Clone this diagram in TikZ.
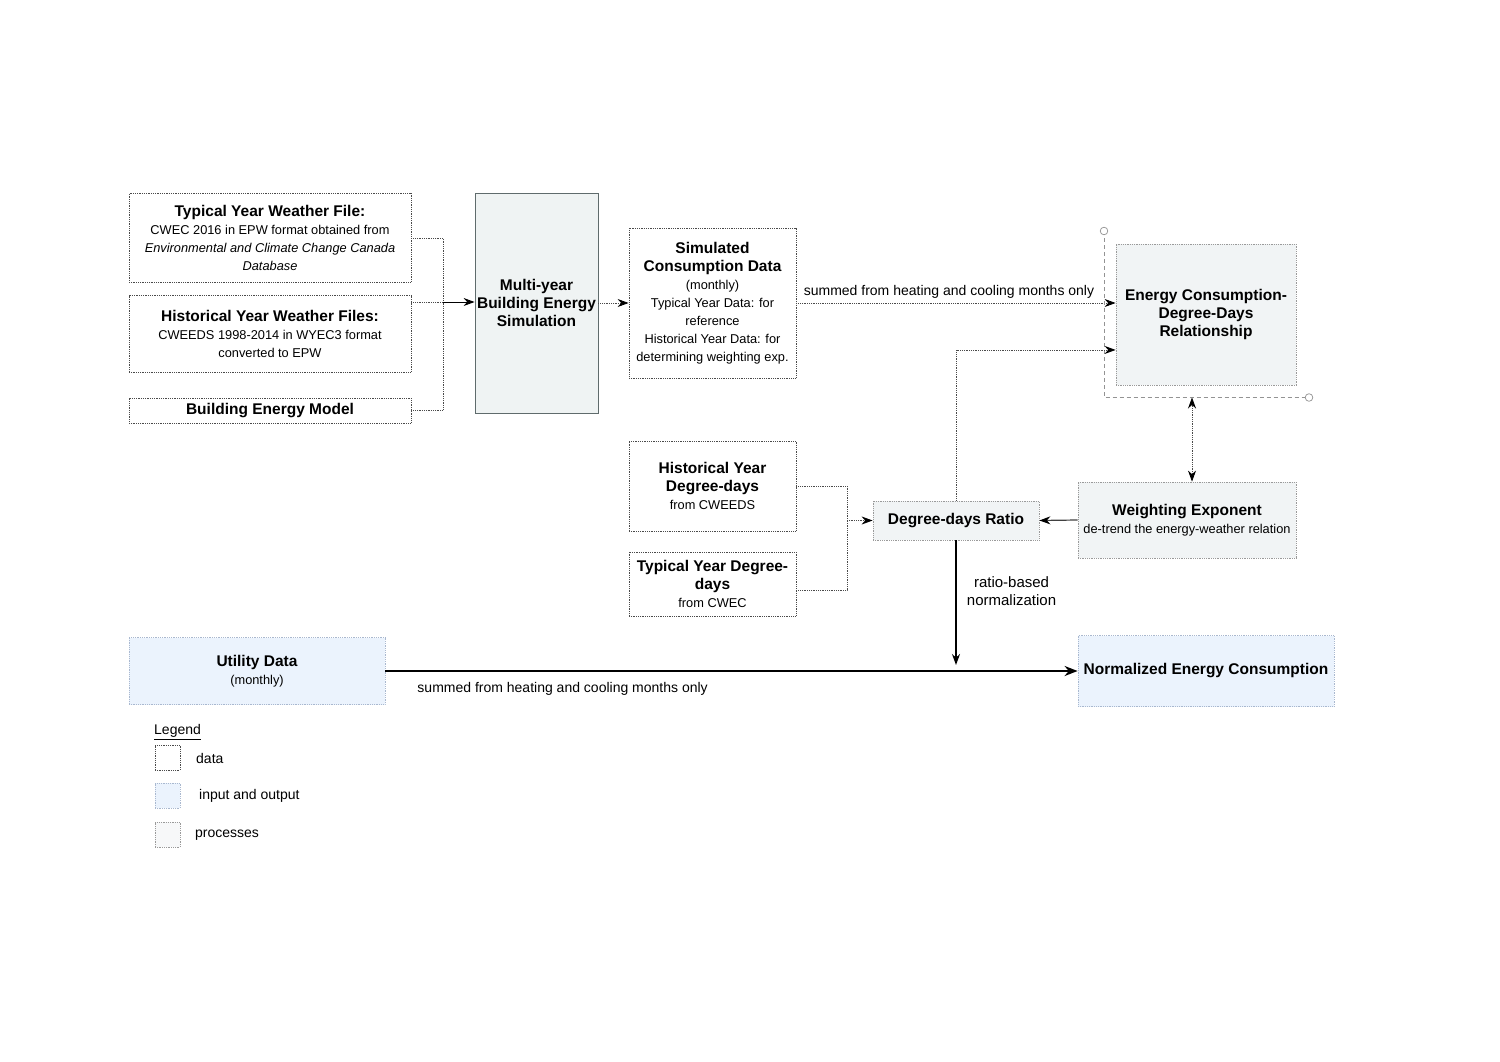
\documentclass[tikz,border=0pt]{standalone}
\usepackage{fontspec}
\setmainfont{Liberation Sans}
\usetikzlibrary{arrows.meta,calc,positioning}
\definecolor{datagray}{HTML}{4A4A4A}
\definecolor{procfill}{HTML}{F1F4F5}
\definecolor{procline}{HTML}{9A9A9A}
\definecolor{iofill}{HTML}{EBF3FD}
\definecolor{ioline}{HTML}{A9B8CF}
\definecolor{simline}{HTML}{5F6B6C}
\definecolor{simfill}{HTML}{EFF3F3}
\newcommand{\ttl}{\fontsize{15.5}{18}\selectfont\bfseries}
\newcommand{\sml}{\fontsize{12.8}{18}\selectfont}
\tikzset{
	boxtext/.style={align=center, inner sep=0pt, font=\fontsize{12.8}{18}\selectfont},
	databox/.style={boxtext, draw=datagray, line width=0.8pt, dash pattern=on 0.9pt off 0.9pt},
	procbox/.style={boxtext, draw=procline, fill=procfill, line width=0.8pt, dash pattern=on 0.9pt off 0.9pt},
	iobox/.style={boxtext, draw=ioline, fill=iofill, line width=0.8pt, dash pattern=on 0.9pt off 0.9pt},
	dotline/.style={draw=datagray, line width=0.8pt, dash pattern=on 0.9pt off 0.9pt},
	tip/.style={-{Stealth[length=11, width=8, color=black]}},
	lbl/.style={font=\fontsize{14}{18}\selectfont, align=center}
}
\begin{document}
\begin{tikzpicture}[x=1pt, y=-1pt]
	\useasboundingbox (0,0) rectangle (1500,1062);

	\node[databox, minimum width=282, minimum height=89] (tyw) at (270,238)
		{{\ttl Typical Year Weather File:}\\{\sml CWEC 2016 in EPW format obtained from}\\{\sml\itshape Environmental and Climate Change Canada}\\{\sml\itshape Database}};
	\node[databox, minimum width=282, minimum height=77] (hyw) at (270,334)
		{{\ttl Historical Year Weather Files:}\\{\sml CWEEDS 1998-2014 in WYEC3 format}\\{\sml converted to EPW}};
	\node[databox, minimum width=282, minimum height=25] (bem) at (270,410.5)
		{\ttl Building Energy Model};

	\node[boxtext, draw=simline, fill=simfill, line width=0.8pt,
		minimum width=123, minimum height=220] (sim) at (536.5,303)
		{{\ttl Multi-year}\\{\ttl Building Energy}\\{\ttl Simulation}};

	\node[databox, minimum width=167, minimum height=150] (scd) at (712.5,303)
		{{\ttl Simulated}\\{\ttl Consumption Data}\\{\sml (monthly)}\\{\sml Typical Year Data: for}\\{\sml reference}\\{\sml Historical Year Data: for}\\{\sml determining weighting exp.}};

	\node[procbox, minimum width=180, minimum height=141] (rel) at (1206,314.5)
		{{\ttl Energy Consumption-}\\{\ttl Degree-Days}\\{\ttl Relationship}};

	\node[databox, minimum width=167, minimum height=90] (hdd) at (712.5,486)
		{{\ttl Historical Year}\\{\ttl Degree-days}\\{\sml from CWEEDS}};
	\node[databox, minimum width=167, minimum height=64] (tdd) at (712.5,584)
		{{\ttl Typical Year Degree-}\\{\ttl days}\\{\sml from CWEC}};

	\node[procbox, minimum width=166, minimum height=39] (ratio) at (956,520.5)
		{\ttl Degree-days Ratio};
	\node[procbox, minimum width=218, minimum height=76] (wexp) at (1187,520)
		{{\ttl Weighting Exponent}\\{\sml de-trend the energy-weather relation}};

	\node[iobox, minimum width=256, minimum height=67] (util) at (257,671)
		{{\ttl Utility Data}\\{\sml (monthly)}};
	\node[iobox, minimum width=256, minimum height=71] (norm) at (1206,671)
		{\ttl Normalized Energy Consumption};

	% inputs into the simulation
	\coordinate (j1) at (443,302);
	\draw[dotline] (tyw.east) -| (j1);
	\draw[dotline] (hyw.east |- j1) -- (j1);
	\draw[dotline] (bem.east) -| (j1);
	\draw[tip, line width=1pt, black] (j1) -- (j1 -| sim.west);
	\draw[dotline, tip] (sim.east) -- (scd.west);

	\draw[dotline, tip] (scd.east) -- (scd.east -| rel.west)
		node[lbl, pos=0.478, above=1pt] {summed from heating and cooling months only};

	% selection bracket
	\coordinate (selt) at (1104,231);
	\coordinate (selc) at (1104,397.5);
	\coordinate (selr) at (1309,397.5);
	\coordinate (selb) at (1192,397.5);
	\draw[draw=gray!85, line width=0.8pt, dash pattern=on 4pt off 3pt] (selt) -- (selc) -- (selr);
	\draw[gray!85, fill=white, line width=0.7pt] (selt) circle (3.8) (selr) circle (3.8);

	\coordinate (relin) at ($(rel.south west)!0.25!(rel.north west)$);
	\draw[dotline, tip] (ratio.north) |- (relin);
	\draw[dotline, {Stealth[length=11, width=8, color=black]}-{Stealth[length=11, width=8, color=black]}] (selb) -- (selb |- wexp.north);

	% degree-days into the ratio
	\coordinate (j2) at (847,520.5);
	\draw[dotline] (hdd.east) -| (j2);
	\draw[dotline] (tdd.east) ++(0,6) -| (j2);
	\draw[dotline, tip] (j2) -- (ratio.west);
	\draw[tip, line width=1.2pt, draw=black!75] (wexp.west) -- (ratio.east);

	\coordinate (drop) at (956,665);
	\draw[tip, line width=1.2pt] (ratio.south) -- (drop)
		node[lbl, font=\fontsize{15}{18}\selectfont, pos=0.41, right=7pt] {ratio-based\\normalization};
	\draw[-{Stealth[length=13, width=10]}, line width=2.2pt] (util.east) -- (norm.west)
		node[lbl, pos=0.256, below=7pt] {summed from heating and cooling months only};

	% legend
	\node[lbl, anchor=west, inner sep=0pt] (leg) at (154,732) {\underline{Legend}};
	\node[databox, minimum size=25] (kdata) at (167.5,757.5) {};
	\node[iobox, minimum size=25] (kio) at (167.5,795.5) {};
	\node[procbox, fill=procfill!60, minimum size=25] (kproc) at (167.5,834.5) {};
	\node[lbl, anchor=west, inner sep=0pt] (tdata) at (196,758) {data};
	\node[lbl, anchor=west, inner sep=0pt] (tio) at (199,796) {input and output};
	\node[lbl, anchor=west, inner sep=0pt] (tproc) at (195,835) {processes};
\end{tikzpicture}
\end{document}
